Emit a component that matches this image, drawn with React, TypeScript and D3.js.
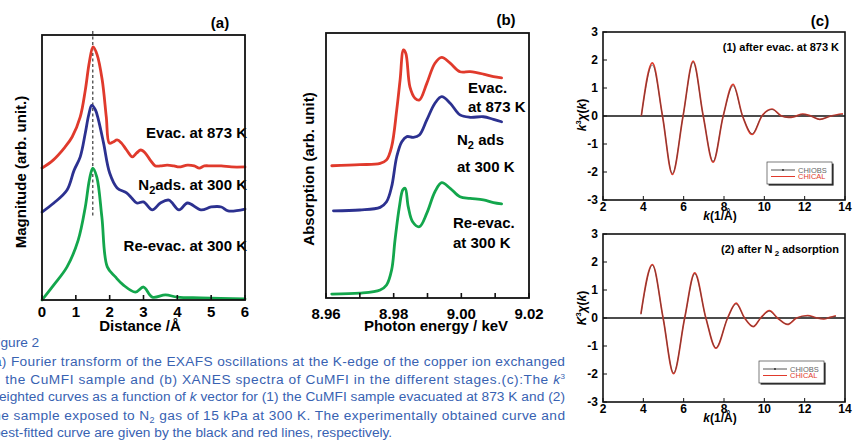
import React from 'react';
import * as d3 from 'd3';

type Pt = [number, number];

// (a) Fourier transform magnitude (arb. units, 0..100) vs distance / Å
const ftEvac873: Pt[] = [
  [0, 49.8], [0.33, 52.8], [0.68, 57.7], [0.89, 61.5], [1.13, 69.1], [1.28, 79.2], [1.4, 89.8],
  [1.51, 95.5], [1.63, 92.5], [1.78, 83], [1.9, 69.1], [1.99, 59.2], [2.1, 59.6], [2.22, 60.4],
  [2.35, 59.2], [2.5, 56.6], [2.67, 54], [2.8, 55.5], [2.92, 56.6], [3.05, 55.5], [3.2, 52.8],
  [3.35, 50.6], [3.5, 50.6], [3.7, 50.9], [3.9, 50.6], [4.05, 50.2], [4.3, 50.9], [4.5, 50.6],
  [4.65, 49.8], [4.8, 50.6], [5.0, 50.6], [5.3, 50.6], [5.6, 50.2], [6.0, 50.2],
];
const ftN2Ads: Pt[] = [
  [0, 33.2], [0.35, 36.6], [0.74, 41.5], [0.95, 49], [1.13, 54], [1.28, 63], [1.38, 69.8],
  [1.47, 73.4], [1.58, 71.7], [1.67, 67.9], [1.82, 59.2], [2.0, 47.9], [2.22, 42.3], [2.5, 40.4],
  [2.65, 38.5], [2.8, 36.6], [3.0, 37], [3.26, 34], [3.5, 36.6], [3.75, 37.7], [4.05, 34],
  [4.3, 36.6], [4.7, 34], [5.0, 35.1], [5.3, 35.1], [5.5, 33.6], [6.0, 34.3],
];
const ftReEvac: Pt[] = [
  [0, 0], [0.35, 5.7], [0.74, 12.5], [1.07, 22.6], [1.28, 35.1], [1.4, 45.3], [1.5, 49.8],
  [1.62, 46.4], [1.77, 31.3], [1.93, 12.5], [2.17, 8.7], [2.4, 5.7], [2.76, 3], [3.0, 4.9],
  [3.26, 1.1], [3.65, 1.9], [4.0, 1.1], [4.7, 0.8], [6.0, 0.4],
];
const distTicks = [0, 1, 2, 3, 4, 5, 6];
const peakDistance = 1.5;

// (b) XANES absorption (arb. units, 0..100) vs photon energy / keV
const xanesEvac873: Pt[] = [
  [8.9617, 49.9], [8.97, 50.3], [8.976, 50.8], [8.9779, 52.1], [8.9794, 57.1], [8.9809, 70.9],
  [8.9819, 82.3], [8.9829, 93.6], [8.9836, 92.3], [8.9848, 79.7], [8.9863, 75.4], [8.9876, 74.7],
  [8.9898, 81], [8.9922, 88.6], [8.9942, 90.8], [8.9967, 88.6], [8.9996, 85.4], [9.0026, 85.4],
  [9.0065, 84.5], [9.0095, 83.5], [9.0119, 83.1],
];
const xanesN2Ads: Pt[] = [
  [8.9622, 32.9], [8.97, 33.2], [8.976, 34.2], [8.9779, 36.3], [8.9794, 42], [8.9809, 53.3],
  [8.9824, 59], [8.9839, 60.9], [8.9858, 60.6], [8.9876, 61.5], [8.9898, 67.2], [8.9922, 73.5],
  [8.9942, 76], [8.9967, 73.5], [8.9996, 69.1], [9.0026, 68.2], [9.0065, 68.4], [9.0095, 67.4],
  [9.0119, 66.5],
];
const xanesReEvac: Pt[] = [
  [8.9617, 1.5], [8.97, 1.8], [8.976, 3], [8.9779, 4.9], [8.9794, 10.6], [8.9804, 21.9],
  [8.9817, 34.5], [8.9827, 40.8], [8.9834, 41.4], [8.9843, 34.5], [8.9856, 28.8], [8.9876, 26.9],
  [8.9898, 32], [8.9922, 40.1], [8.9942, 43.5], [8.9967, 41.4], [8.9996, 38.2], [9.0026, 37.6],
  [9.0065, 37], [9.0095, 36], [9.0119, 35.5],
];
const energyTicks = [8.96, 8.97, 8.98, 8.99, 9.0, 9.01, 9.02];
const energyLabels = [8.96, 8.98, 9.0, 9.02];

// (c) k^3-weighted chi(k): observed (black) and fitted (red)
const chiObs1: Pt[] = [
  [3.9, 0], [4.45, 1.82], [4.95, 0], [5.44, -2.05], [5.97, 0], [6.47, 1.92], [6.97, 0],
  [7.46, -1.62], [7.96, 0], [8.45, 1.08], [8.92, 0], [9.4, -0.63], [9.88, 0], [10.38, 0.23],
  [10.85, 0], [11.2, -0.05], [11.5, -0.02], [11.9, 0.06], [12.3, 0], [12.75, -0.12], [13.3, 0],
  [13.9, 0.05],
];
const chiCal1: Pt[] = [
  [3.9, 0], [4.45, 1.9], [4.95, 0], [5.44, -2.09], [5.97, 0], [6.47, 1.96], [6.97, 0],
  [7.46, -1.65], [7.96, 0], [8.45, 1.13], [8.92, 0], [9.4, -0.66], [9.88, 0], [10.38, 0.25],
  [10.85, 0], [11.2, -0.05], [11.5, -0.02], [11.9, 0.07], [12.3, 0], [12.75, -0.12], [13.3, 0],
  [13.9, 0.08],
];
const chiObs2: Pt[] = [
  [3.88, 0.12], [4.45, 1.88], [4.98, 0], [5.5, -1.96], [6.05, 0], [6.55, 1.58], [7.1, 0],
  [7.6, -1.06], [8.18, 0], [8.6, 0.5], [9.02, 0], [9.45, -0.3], [9.82, 0], [10.25, 0.24],
  [10.65, 0], [11.15, -0.22], [11.6, 0], [12.15, 0.07], [12.6, 0], [12.95, -0.03], [13.25, 0.02],
  [13.55, 0.06],
];
const chiCal2: Pt[] = [
  [3.88, 0.15], [4.45, 1.91], [4.98, 0], [5.5, -1.99], [6.05, 0], [6.55, 1.61], [7.1, 0],
  [7.6, -1.08], [8.18, 0], [8.6, 0.53], [9.02, 0], [9.45, -0.31], [9.82, 0], [10.25, 0.26],
  [10.65, 0], [11.15, -0.23], [11.6, 0], [12.15, 0.09], [12.6, 0], [12.95, -0.03], [13.25, 0.02],
  [13.55, 0.08],
];
const kTicks = [2, 4, 6, 8, 10, 12, 14];
const chiTicks = [-3, -2, -1, 0, 1, 2, 3];

const FONT = "'Liberation Sans', Arial, Helvetica, sans-serif";
const RED = '#e03a2c';
const BLUE = '#2c3190';
const GREEN = '#13a64c';
const CAPTION = '#3862b2';

function ChiPanel({ top, bottom, obs, cal, note, legend, capK, labelY }: any) {
  const x = d3.scaleLinear().domain([2, 14]).range([603, 845]);
  const y = d3.scaleLinear().domain([-3, 3]).range([bottom, top]);
  const line = d3.line<Pt>().x(d => x(d[0])).y(d => y(d[1])).curve(d3.curveMonotoneX);
  return (
    <g>
      <line x1={x(2)} x2={x(14)} y1={y(0)} y2={y(0)} stroke="#111" strokeWidth={1.3} />
      <path d={line(cal) || ''} fill="none" stroke={RED} strokeWidth={1.7} />
      <path d={line(obs) || ''} fill="none" stroke="#3a3a3a" strokeWidth={0.6} />
      {chiTicks.map(t => (
        <g key={t}>
          <line x1={x(2)} x2={x(2) + 4} y1={y(t)} y2={y(t)} stroke="#111" strokeWidth={1} />
          <text x={598} y={y(t) + 4.3} textAnchor="end" fontSize={12} fontWeight="bold">{t}</text>
        </g>
      ))}
      {kTicks.map(t => (
        <g key={t}>
          <line x1={x(t)} x2={x(t)} y1={bottom} y2={bottom - 4} stroke="#111" strokeWidth={1} />
          <text x={x(t)} y={bottom + 11} textAnchor="middle" fontSize={12} fontWeight="bold">{t}</text>
        </g>
      ))}
      <rect x={x(2)} y={top} width={x(14) - x(2)} height={bottom - top} fill="none" stroke="#111" strokeWidth={1.6} />
      <text x={839} y={top + 19} textAnchor="end" fontSize={11} fontWeight="bold">{note}</text>
      <text x={720} y={bottom + 20} textAnchor="middle" fontSize={12} fontWeight="bold">
        <tspan fontStyle="italic">k</tspan>(1/Å)
      </text>
      <text transform={`translate(586,${labelY}) rotate(-90)`} textAnchor="middle" fontSize={12} fontWeight="bold">
        <tspan fontStyle="italic">{capK ? 'K' : 'k'}</tspan>
        <tspan fontSize={7.5} dy={-5}>3</tspan>
        <tspan dy={5} fontStyle="italic">χ</tspan>(<tspan fontStyle="italic">k</tspan>)
      </text>
      <g>
        <rect x={legend[0] + 1.6} y={legend[1] + 1.6} width={65} height={22} fill="#222" />
        <rect x={legend[0]} y={legend[1]} width={65} height={22} fill="#fff" stroke="#444" strokeWidth={0.7} />
        <line x1={legend[0] + 4} x2={legend[0] + 28} y1={legend[1] + 8} y2={legend[1] + 8} stroke="#555" strokeWidth={1} />
        <circle cx={legend[0] + 16} cy={legend[1] + 8} r={0.9} fill="#222" />
        <line x1={legend[0] + 4} x2={legend[0] + 28} y1={legend[1] + 14.5} y2={legend[1] + 14.5} stroke={RED} strokeWidth={1} />
        <text x={legend[0] + 31} y={legend[1] + 10.5} fontSize={7.5} fill="#666">CHIOBS</text>
        <text x={legend[0] + 31} y={legend[1] + 17} fontSize={7.5} fill={RED}>CHICAL</text>
      </g>
    </g>
  );
}

export default function App() {
  // (a)
  const xA = d3.scaleLinear().domain([0, 6]).range([42, 245]);
  const yA = d3.scaleLinear().domain([0, 100]).range([300, 35]);
  const lineA = d3.line<Pt>().x(d => xA(d[0])).y(d => yA(d[1])).curve(d3.curveCatmullRom.alpha(0.5));

  // (b)
  const xB = d3.scaleLinear().domain([8.96, 9.02]).range([326, 529]);
  const yB = d3.scaleLinear().domain([0, 100]).range([298, 33]);
  const lineB = d3.line<Pt>().x(d => xB(d[0])).y(d => yB(d[1])).curve(d3.curveCatmullRom.alpha(0.5));

  const curve = { fill: 'none', strokeWidth: 2.8, strokeLinejoin: 'round' as const, strokeLinecap: 'round' as const };

  return (
    <svg width={854} height={440} style={{ position: 'absolute', left: 0, top: 0, display: 'block', background: '#fff' }}
      fontFamily={FONT}>
      <rect width={854} height={440} fill="#fff" />

      {/* (a) */}
      <line x1={xA(peakDistance)} x2={xA(peakDistance)} y1={yA(101.5)} y2={yA(31)} stroke="#555" strokeWidth={1.4} strokeDasharray="3,2.5" />
      <path d={lineA(ftEvac873) || ''} stroke={RED} {...curve} />
      <path d={lineA(ftN2Ads) || ''} stroke={BLUE} {...curve} />
      <path d={lineA(ftReEvac) || ''} stroke={GREEN} {...curve} />
      <g fontSize={15} fontWeight="bold" textAnchor="end">
        <text x={247} y={138}>Evac. at 873 K</text>
        <text x={247} y={190}>N<tspan fontSize={11} dy={4}>2</tspan><tspan dy={-4}>ads. at 300 K</tspan></text>
        <text x={247} y={251}>Re-evac. at 300 K</text>
      </g>
      {distTicks.map(t => (
        <g key={t}>
          <line x1={xA(t)} x2={xA(t)} y1={300} y2={295} stroke="#111" strokeWidth={1.6} />
          <text x={xA(t)} y={317} textAnchor="middle" fontSize={15} fontWeight="bold">{t}</text>
        </g>
      ))}
      <rect x={42} y={35} width={203} height={265} fill="none" stroke="#111" strokeWidth={1.8} />
      <text x={220} y={28} textAnchor="middle" fontSize={15} fontWeight="bold">(a)</text>
      <text x={140} y={331} textAnchor="middle" fontSize={15} fontWeight="bold">Distance /Å</text>
      <text transform="translate(26,172) rotate(-90)" textAnchor="middle" fontSize={15} fontWeight="bold">Magnitude (arb. unit.)</text>

      {/* (b) */}
      <path d={lineB(xanesEvac873) || ''} stroke={RED} {...curve} />
      <path d={lineB(xanesN2Ads) || ''} stroke={BLUE} {...curve} />
      <path d={lineB(xanesReEvac) || ''} stroke={GREEN} {...curve} />
      <g fontSize={15} fontWeight="bold">
        <text x={468} y={92.5}>Evac.</text>
        <text x={468} y={111.5}>at 873 K</text>
        <text x={457} y={145}>N<tspan fontSize={11} dy={4}>2</tspan><tspan dy={-4}> ads</tspan></text>
        <text x={457} y={172}>at 300 K</text>
        <text x={453} y={228}>Re-evac.</text>
        <text x={453} y={248}>at 300 K</text>
      </g>
      {energyTicks.map(t => (
        <line key={t} x1={xB(t)} x2={xB(t)} y1={298} y2={293} stroke="#111" strokeWidth={1.6} />
      ))}
      {energyLabels.map(t => (
        <text key={t} x={xB(t)} y={318.5} textAnchor="middle" fontSize={15} fontWeight="bold">{t.toFixed(2)}</text>
      ))}
      <rect x={326} y={33} width={203} height={265} fill="none" stroke="#111" strokeWidth={1.8} />
      <text x={506} y={24.5} textAnchor="middle" fontSize={15} fontWeight="bold">(b)</text>
      <text x={436} y={331} textAnchor="middle" fontSize={15} fontWeight="bold">Photon energy / keV</text>
      <text transform="translate(314,169) rotate(-90)" textAnchor="middle" fontSize={15} fontWeight="bold">Absorption (arb. unit)</text>

      {/* (c) */}
      <text x={820} y={25.5} textAnchor="middle" fontSize={15} fontWeight="bold">(c)</text>
      <ChiPanel top={32} bottom={200} obs={chiObs1} cal={chiCal1} labelY={115}
        note="(1) after evac. at 873 K" legend={[767, 162]} />
      <ChiPanel top={234} bottom={402} obs={chiObs2} cal={chiCal2} capK labelY={308}
        note={<>(2) after N<tspan fontSize={8} dy={3}> 2</tspan><tspan dy={-3}> adsorption</tspan></>} legend={[759, 361]} />

      {/* caption */}
      <g fill={CAPTION} fontSize={13.7}>
        <text x={-11} y={347}>Figure 2</text>
        <text x={-11} y={365.5} textLength={576} lengthAdjust="spacing">(a) Fourier transform of the EXAFS oscillations at the K-edge of the copper ion exchanged</text>
        <text x={-11} y={383.5} textLength={576} lengthAdjust="spacing">in the CuMFI sample and (b) XANES spectra of CuMFI in the different stages.(c):The <tspan fontStyle="italic">k</tspan><tspan fontSize={8} dy={-5}>3</tspan></text>
        <text x={-11} y={401} textLength={576} lengthAdjust="spacing">weighted curves as a function of <tspan fontStyle="italic">k</tspan> vector for (1) the CuMFI sample evacuated at 873 K and (2)</text>
        <text x={-11} y={419.5} textLength={576} lengthAdjust="spacing">the sample exposed to N<tspan fontSize={9} dy={3}>2</tspan><tspan dy={-3}> gas of 15 kPa at 300 K. The experimentally obtained curve and</tspan></text>
        <text x={-7} y={437}>best-fitted curve are given by the black and red lines, respectively.</text>
      </g>
    </svg>
  );
}
